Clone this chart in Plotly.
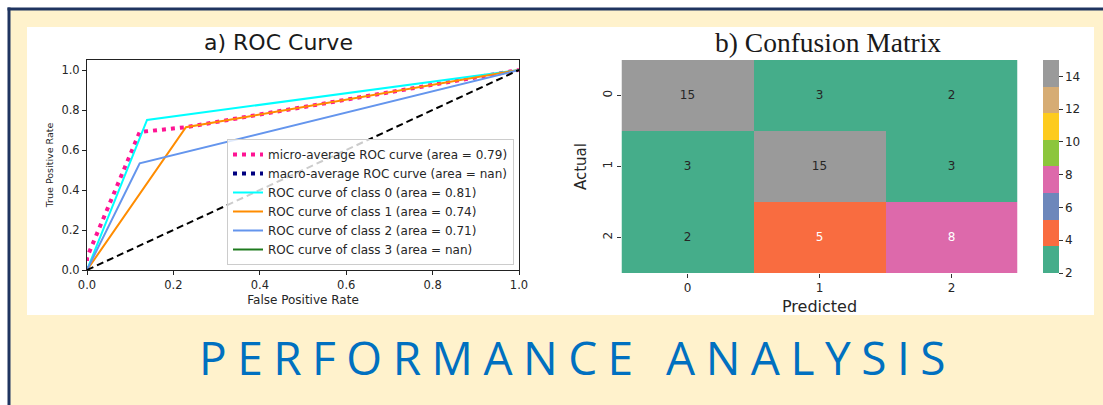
import plotly.graph_objects as go

W, H = 1103, 405

# ---------------- data ----------------
# ROC curves (FPR, TPR)
fpr_micro = [0.0, 0.0, 0.122, 0.229, 1.0]
tpr_micro = [0.0, 0.063, 0.690, 0.714, 1.0]
fpr_macro = [float("nan")]
tpr_macro = [float("nan")]
fpr_c0 = [0.0, 0.139, 1.0]
tpr_c0 = [0.0, 0.750, 1.0]
fpr_c1 = [0.0, 0.229, 1.0]
tpr_c1 = [0.0, 0.714, 1.0]
fpr_c2 = [0.0, 0.122, 1.0]
tpr_c2 = [0.0, 0.533, 1.0]
fpr_c3 = [float("nan")]
tpr_c3 = [float("nan")]
chance = [0.0, 1.0]

roc_names = [
    "micro-average ROC curve (area = 0.79)",
    "macro-average ROC curve (area = nan)",
    "ROC curve of class 0 (area = 0.81)",
    "ROC curve of class 1 (area = 0.74)",
    "ROC curve of class 2 (area = 0.71)",
    "ROC curve of class 3 (area = nan)",
]
roc_ticks = [0.0, 0.2, 0.4, 0.6, 0.8, 1.0]

# Confusion matrix
cm_labels = ["0", "1", "2"]
cm_values = [
    [15, 3, 2],
    [3, 15, 3],
    [2, 5, 8],
]
cbar_ticks = [2, 4, 6, 8, 10, 12, 14]

# ---------------- styles ----------------
palette = ["#45AD8A", "#F96C40", "#6D87BB", "#DD69AB",
           "#8CC63C", "#FDCB1E", "#D6AC74", "#9A9A9A"]
band_text = ["#262626", "#FFFFFF", "#FFFFFF", "#FFFFFF",
             "#262626", "#262626", "#262626", "#262626"]
zmin, zmax = 2, 15
nb = len(palette)
colorscale = []
for i, c in enumerate(palette):
    colorscale.append([i / nb, c])
    colorscale.append([(i + 1) / nb, c])

CREAM = "#FFF2CC"
NAVY = "#1F3460"
INK = "#262626"


def px_x(p):
    return p / W


def px_y(p):
    return 1 - p / H


fig = go.Figure()

# ROC traces
line_specs = [
    (fpr_micro, tpr_micro, roc_names[0], "#FF1493", 4, "4px,5px"),
    (fpr_macro, tpr_macro, roc_names[1], "#000080", 4, "4px,5px"),
    (fpr_c0, tpr_c0, roc_names[2], "#00FFFF", 2, "solid"),
    (fpr_c1, tpr_c1, roc_names[3], "#FF8C00", 2, "solid"),
    (fpr_c2, tpr_c2, roc_names[4], "#6495ED", 2, "solid"),
    (fpr_c3, tpr_c3, roc_names[5], "#1E7A1E", 2, "solid"),
]
for xs, ys, name, col, lw, dash in line_specs:
    fig.add_trace(go.Scatter(
        x=xs, y=ys, name=name, mode="lines",
        line=dict(color=col, width=lw, dash=dash),
        xaxis="x", yaxis="y", showlegend=True,
    ))
fig.add_trace(go.Scatter(
    x=chance, y=chance, mode="lines", showlegend=False,
    line=dict(color="black", width=2, dash="7px,4px"),
    xaxis="x", yaxis="y",
))

# Confusion matrix heatmap
fig.add_trace(go.Heatmap(
    z=cm_values, x=cm_labels, y=cm_labels,
    colorscale=colorscale, zmin=zmin, zmax=zmax,
    xaxis="x2", yaxis="y2", showscale=True,
    hoverinfo="skip",
    colorbar=dict(
        x=px_x(1043), xanchor="left", xpad=0, ypad=0,
        y=px_y(60), yanchor="top",
        len=213, lenmode="pixels",
        thickness=16, thicknessmode="pixels",
        outlinewidth=0,
        tickvals=cbar_ticks, ticks="outside", ticklen=4,
        tickcolor="#333", tickwidth=1,
        tickfont=dict(family="DejaVu Sans", size=12, color=INK),
    ),
))

# cell labels
tx, ty, tt, tc = [], [], [], []
for r, row in enumerate(cm_values):
    for c, v in enumerate(row):
        band = min(int((v - zmin) / (zmax - zmin) * nb), nb - 1)
        tx.append(cm_labels[c])
        ty.append(cm_labels[r])
        tt.append(str(v))
        tc.append(band_text[band])
fig.add_trace(go.Scatter(
    x=tx, y=ty, text=tt, mode="text", showlegend=False,
    textfont=dict(family="DejaVu Sans", size=12, color=tc),
    xaxis="x2", yaxis="y2", hoverinfo="skip",
))

# ---------------- layout ----------------
shapes = [
    dict(type="rect", xref="paper", yref="paper", x0=px_x(8), x1=1.01,
         y0=-0.01, y1=px_y(8), fillcolor=CREAM, line=dict(width=0), layer="below"),
    dict(type="rect", xref="paper", yref="paper", x0=px_x(27), x1=px_x(1094),
         y0=px_y(315), y1=px_y(27), fillcolor="white", line=dict(width=0), layer="below"),
    dict(type="line", xref="paper", yref="paper", x0=px_x(9), x1=px_x(9),
         y0=-0.01, y1=px_y(7.5), line=dict(color=NAVY, width=3), layer="below"),
    dict(type="line", xref="paper", yref="paper", x0=px_x(7.5), x1=1.01,
         y0=px_y(9), y1=px_y(9), line=dict(color=NAVY, width=3), layer="below"),
]

annotations = [
    dict(text="a) ROC Curve", x=px_x(278), y=px_y(42), xref="paper", yref="paper",
         showarrow=False, xanchor="center", yanchor="middle",
         font=dict(family="DejaVu Sans", size=22, color="#1a1a1a")),
    dict(text="b) Confusion Matrix", x=px_x(828), y=px_y(42), xref="paper", yref="paper",
         showarrow=False, xanchor="center", yanchor="middle",
         font=dict(family="Liberation Serif", size=27.5, color="#1a1a1a")),
    dict(text='<span style="letter-spacing:10.5px">PERFORMANCE ANALYSIS</span>',
         x=px_x(577), y=px_y(357), xref="paper", yref="paper",
         showarrow=False, xanchor="center", yanchor="middle",
         font=dict(family="Open Sans", size=46, color="#0070C0")),
]

axis_common = dict(showgrid=False, zeroline=False, automargin=False)

fig.update_layout(
    width=W, height=H,
    margin=dict(l=0, r=0, t=0, b=0, pad=0, autoexpand=False),
    paper_bgcolor="white",
    plot_bgcolor="rgba(0,0,0,0)",
    shapes=shapes,
    annotations=annotations,
    xaxis=dict(
        domain=[px_x(87), px_x(519)], range=[0, 1], anchor="y",
        tickvals=roc_ticks, tickformat=".1f",
        ticks="outside", ticklen=4, tickcolor="#222",
        showline=True, linecolor="#222", linewidth=1, mirror=True,
        tickfont=dict(family="DejaVu Sans", size=11.5, color=INK),
        title=dict(text="False Positive Rate", standoff=4,
                   font=dict(family="DejaVu Sans", size=12, color=INK)),
        **axis_common,
    ),
    yaxis=dict(
        domain=[px_y(270), px_y(60)], range=[0, 1.05], anchor="x",
        tickvals=roc_ticks, tickformat=".1f",
        ticks="outside", ticklen=4, tickcolor="#222",
        showline=True, linecolor="#222", linewidth=1, mirror=True,
        tickfont=dict(family="DejaVu Sans", size=11.5, color=INK),
        title=dict(text="True Positive Rate", standoff=6,
                   font=dict(family="DejaVu Sans", size=9.5, color=INK)),
        **axis_common,
    ),
    xaxis2=dict(
        domain=[px_x(621.5), px_x(1017.5)], anchor="y2", type="category",
        ticks="outside", ticklen=4, tickcolor="#333",
        showline=False,
        tickfont=dict(family="DejaVu Sans", size=12, color=INK),
        title=dict(text="Predicted", standoff=6,
                   font=dict(family="DejaVu Sans", size=16, color=INK)),
        **axis_common,
    ),
    yaxis2=dict(
        domain=[px_y(273), px_y(60)], anchor="x2", type="category",
        autorange="reversed", tickangle=-90,
        ticks="outside", ticklen=4, tickcolor="#333",
        showline=False,
        tickfont=dict(family="DejaVu Sans", size=12, color=INK),
        title=dict(text="Actual", standoff=10,
                   font=dict(family="DejaVu Sans", size=15, color=INK)),
        **axis_common,
    ),
    legend=dict(
        x=px_x(514), xanchor="right", y=px_y(265), yanchor="bottom",
        bgcolor="rgba(255,255,255,0.8)", bordercolor="#CCCCCC", borderwidth=1,
        font=dict(family="DejaVu Sans", size=12, color=INK),
        itemwidth=30, tracegroupgap=0,
    ),
    showlegend=True,
)

fig.write_html(
    "out.html",
    config={"displayModeBar": False},
    post_script="document.body.style.margin='0px';document.body.style.overflow='hidden';",
)
